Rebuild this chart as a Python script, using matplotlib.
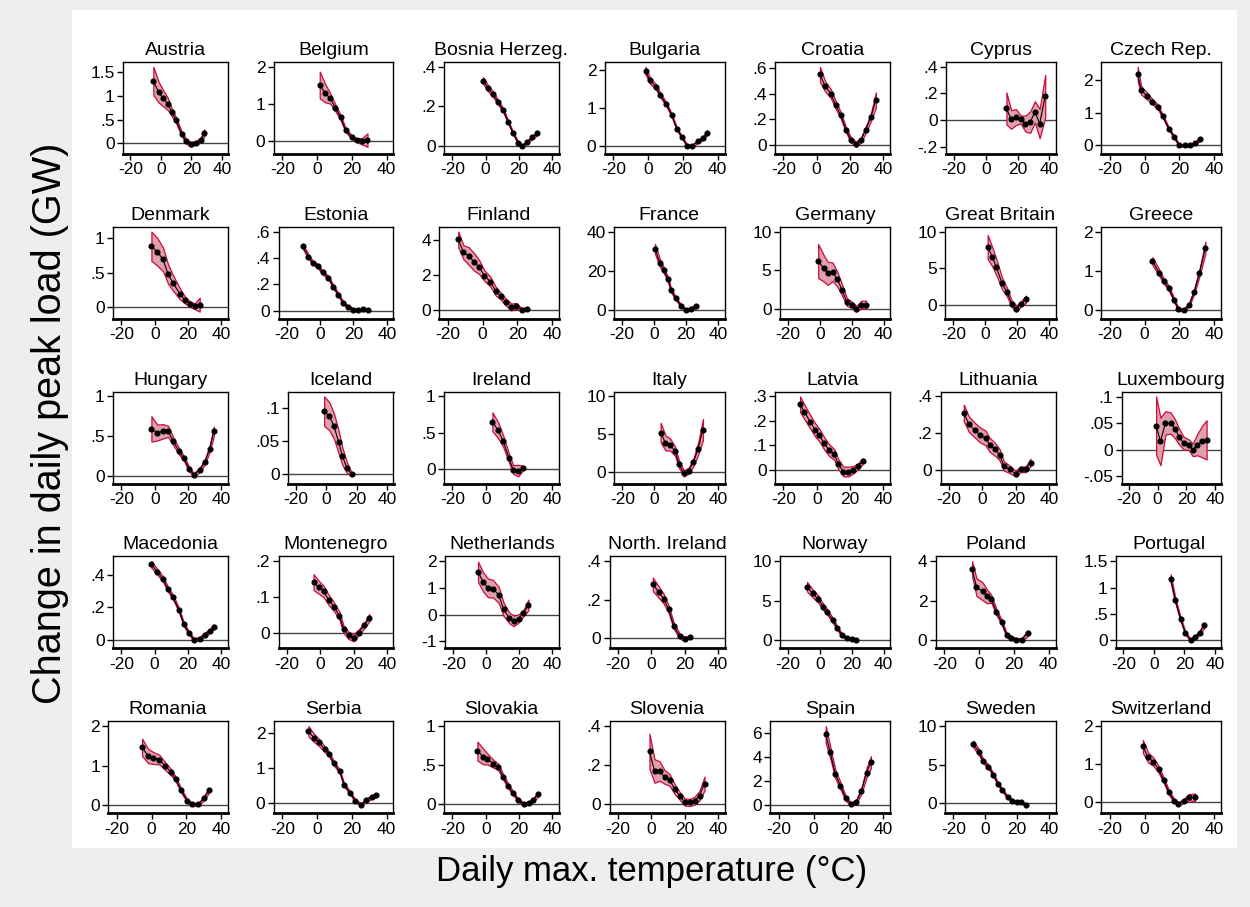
import matplotlib
matplotlib.use("Agg")
import matplotlib.pyplot as plt
from matplotlib.patches import Rectangle
import numpy as np

plt.rcParams['font.family'] = ['Liberation Sans', 'DejaVu Sans']

# countries in panel order (5 rows x 7 columns)
countries = ["Austria", "Belgium", "Bosnia Herzeg.", "Bulgaria", "Croatia", "Cyprus", "Czech Rep.",
             "Denmark", "Estonia", "Finland", "France", "Germany", "Great Britain", "Greece",
             "Hungary", "Iceland", "Ireland", "Italy", "Latvia", "Lithuania", "Luxembourg",
             "Macedonia", "Montenegro", "Netherlands", "North. Ireland", "Norway", "Poland", "Portugal",
             "Romania", "Serbia", "Slovakia", "Slovenia", "Spain", "Sweden", "Switzerland"]

# daily max temperature bins (deg C)
temp = {
    "Austria": [-5, -1.5, 1.5, 4.5, 7, 10, 13.5, 16.5, 19.5, 23, 26, 28.5],
    "Belgium": [1.5, 4.5, 7.5, 10.5, 13.5, 16.5, 20, 23, 26, 29],
    "Bosnia Herzeg.": [-1.5, 1.5, 4.5, 7.5, 10.5, 13.5, 16.5, 19.5, 22, 25, 28, 31],
    "Bulgaria": [-1.5, 1, 4.5, 7, 10.5, 13.5, 16.5, 19.5, 22.5, 25.5, 28.5, 31.5, 34],
    "Croatia": [2, 5, 8.5, 11.5, 14.5, 17.5, 20.5, 23.5, 26.5, 29.5, 32.5, 35.5],
    "Cyprus": [13, 16, 19, 22, 25, 28, 31, 34, 37.5],
    "Czech Rep.": [-4, -2, 1.5, 4.5, 7.5, 10.5, 14, 17, 20, 23, 26, 29, 32],
    "Denmark": [-2, 1.5, 5, 8, 11, 15, 18, 21, 24, 27],
    "Estonia": [-10.5, -7, -4.5, -1.5, 1.5, 5, 8, 11, 14, 17, 20, 23, 26, 29],
    "Finland": [-14, -11, -8, -5, -2, 1, 4.5, 7.5, 10.5, 13.5, 16.5, 19.5, 22.5, 25.5],
    "France": [0.5, 3.5, 6, 8.5, 10.5, 13.5, 17, 20, 23, 26],
    "Germany": [-1, 2.5, 5, 8, 11, 14, 17, 20, 23, 26, 29],
    "Great Britain": [1.5, 4.5, 7, 10.5, 13.5, 16.5, 19.5, 22.5, 25.5],
    "Greece": [4.5, 8.5, 11, 14, 17, 19.5, 22.5, 25.5, 28.5, 31.5, 35],
    "Hungary": [-2, 1.5, 5, 8, 11, 14.5, 17.5, 20.5, 23.5, 27, 30, 33, 35.5],
    "Iceland": [-1.5, 2, 5, 8, 10.5, 13.5, 16.5],
    "Ireland": [4, 7.5, 10.5, 14, 16.5, 19.5, 22.5],
    "Italy": [4, 7, 10, 13, 15.5, 18.5, 21.5, 24.5, 27.5, 30.5],
    "Latvia": [-10, -7.5, -4, -1, 1.5, 4.5, 7.5, 10.5, 13, 16, 19, 22, 25, 27.5],
    "Lithuania": [-11, -8, -4.5, -1.5, 2, 4.5, 7.5, 10.5, 13, 16.5, 20, 23, 26, 29],
    "Luxembourg": [-1, 2, 5.5, 9, 12, 15, 18, 21.5, 24.5, 27.5, 31, 34],
    "Macedonia": [-2, 1.5, 5, 8, 11, 14.5, 17.5, 20.5, 23.5, 27, 30, 33, 35.5],
    "Montenegro": [-4, -1, 2, 5, 8.5, 11.5, 14, 17, 20, 23, 26.5, 29.5],
    "Netherlands": [-5, -2, 1, 4, 7.5, 10.5, 14, 16.5, 19.5, 22.5, 25.5],
    "North. Ireland": [1, 4.5, 7.5, 10.5, 13.5, 17, 20, 23],
    "Norway": [-8, -4.5, -1, 2, 4.5, 8, 11, 14, 17, 20, 22.5],
    "Poland": [-4, -1.5, 2, 4.5, 7, 10, 13, 16, 18.5, 21.5, 24.5, 28],
    "Portugal": [11, 14, 17.5, 20.5, 24, 27, 30, 33],
    "Romania": [-5.5, -2, 1, 4.5, 7.5, 11, 14, 17, 20.5, 23.5, 27, 30, 33],
    "Serbia": [-5, -2, 1, 4.5, 7, 9.5, 13, 15.5, 19, 22, 25.5, 28, 31.5, 34],
    "Slovakia": [-5, -1.5, 1, 4.5, 7.5, 10.5, 13.5, 16.5, 19.5, 23, 26, 28.5, 31.5],
    "Slovenia": [-1, 2, 5, 8, 11, 14, 17, 20, 23, 26, 29, 32],
    "Spain": [7, 9.5, 12.5, 15.5, 18.5, 21.5, 24.5, 27.5, 30.5, 33],
    "Sweden": [-7.5, -4, -1.5, 2, 5, 8, 10.5, 14, 17, 20, 22.5, 25.5],
    "Switzerland": [-1, 2, 5, 8, 11, 14, 17, 19.5, 22.5, 25.5, 29],
}

# change in daily peak load (GW)
load = {
    "Austria": [1.32, 1.08, 0.95, 0.83, 0.66, 0.48, 0.2, 0.04, -0.03, 0.01, 0.06, 0.22],
    "Belgium": [1.51, 1.3, 1.15, 0.9, 0.64, 0.29, 0.11, 0.02, 0.0, 0.03],
    "Bosnia Herzeg.": [0.33, 0.29, 0.26, 0.22, 0.18, 0.12, 0.063, 0.014, 0.0, 0.02, 0.042, 0.063],
    "Bulgaria": [1.98, 1.72, 1.55, 1.34, 1.09, 0.81, 0.45, 0.22, 0.0, 0.0, 0.11, 0.2, 0.34],
    "Croatia": [0.55, 0.46, 0.40, 0.31, 0.23, 0.12, 0.04, 0.005, 0.036, 0.12, 0.215, 0.35],
    "Cyprus": [0.088, 0.005, 0.023, 0.005, -0.026, -0.015, 0.062, -0.026, 0.18],
    "Czech Rep.": [2.19, 1.69, 1.51, 1.34, 1.19, 0.89, 0.51, 0.26, 0.0, 0.0, 0.0, 0.07, 0.2],
    "Denmark": [0.88, 0.80, 0.69, 0.48, 0.35, 0.20, 0.11, 0.05, 0.015, 0.04],
    "Estonia": [0.49, 0.41, 0.365, 0.34, 0.29, 0.25, 0.18, 0.12, 0.057, 0.029, 0.008, 0.003, 0.01, 0.008],
    "Finland": [4.02, 3.29, 3.08, 2.75, 2.45, 1.96, 1.61, 1.08, 0.78, 0.43, 0.16, 0.24, 0.0, 0.06],
    "France": [31.2, 24.2, 20.4, 16, 10.3, 6, 2.1, 0, 0.8, 2],
    "Germany": [6.2, 5.24, 4.6, 4.8, 3.85, 2.42, 0.87, 0.56, 0.0, 0.56, 0.56],
    "Great Britain": [7.9, 6.5, 5.1, 2.9, 1.76, 0.14, -0.55, 0.14, 0.74],
    "Greece": [1.25, 0.95, 0.75, 0.56, 0.26, 0.03, 0.01, 0.13, 0.47, 0.94, 1.59],
    "Hungary": [0.59, 0.545, 0.56, 0.56, 0.44, 0.31, 0.22, 0.09, 0.012, 0.074, 0.17, 0.34, 0.56],
    "Iceland": [0.095, 0.087, 0.072, 0.049, 0.027, 0.01, 0.0],
    "Ireland": [0.65, 0.53, 0.38, 0.145, -0.01, -0.025, 0.014],
    "Italy": [5.2, 3.83, 3.6, 2.73, 1.0, -0.22, 0.13, 1.23, 3.08, 5.6],
    "Latvia": [0.268, 0.237, 0.197, 0.163, 0.142, 0.107, 0.079, 0.062, 0.022, -0.008, -0.008, -0.001, 0.015, 0.034],
    "Lithuania": [0.31, 0.25, 0.218, 0.193, 0.175, 0.138, 0.115, 0.084, 0.024, 0.005, -0.018, 0.005, 0.005, 0.042],
    "Luxembourg": [0.046, 0.016, 0.051, 0.051, 0.04, 0.025, 0.013, 0.01, 0.0, 0.01, 0.016, 0.019],
    "Macedonia": [0.463, 0.419, 0.373, 0.31, 0.262, 0.184, 0.094, 0.042, 0.0, 0.006, 0.031, 0.052, 0.08],
    "Montenegro": [0.142, 0.128, 0.116, 0.093, 0.072, 0.049, 0.011, -0.006, -0.012, 0.002, 0.022, 0.043],
    "Netherlands": [1.6, 1.23, 1.0, 0.97, 0.74, 0.19, -0.13, -0.24, -0.15, 0.06, 0.36],
    "North. Ireland": [0.28, 0.24, 0.205, 0.15, 0.065, 0.012, -0.004, 0.005],
    "Norway": [6.78, 5.94, 5.23, 4.27, 3.64, 2.6, 1.55, 0.63, 0.29, 0.17, 0.0],
    "Poland": [3.62, 2.69, 2.48, 2.22, 2.1, 1.43, 0.91, 0.24, 0.12, 0.03, 0.03, 0.35],
    "Portugal": [1.17, 0.76, 0.40, 0.15, 0.006, 0.07, 0.15, 0.29],
    "Romania": [1.46, 1.24, 1.19, 1.15, 1.0, 0.84, 0.65, 0.37, 0.11, 0.017, 0.017, 0.17, 0.37],
    "Serbia": [2.05, 1.87, 1.73, 1.53, 1.39, 1.14, 0.9, 0.52, 0.29, 0.05, -0.05, 0.07, 0.17, 0.22],
    "Slovakia": [0.68, 0.61, 0.58, 0.52, 0.48, 0.35, 0.236, 0.14, 0.056, 0.0, 0.021, 0.056, 0.133],
    "Slovenia": [0.27, 0.17, 0.17, 0.14, 0.125, 0.079, 0.044, 0.012, 0.009, 0.018, 0.044, 0.106],
    "Spain": [5.9, 4.44, 2.6, 1.6, 0.56, 0.06, 0.26, 1.17, 2.69, 3.57],
    "Sweden": [7.67, 6.64, 5.52, 4.75, 3.72, 2.51, 1.79, 0.81, 0.36, 0.13, 0.13, -0.18],
    "Switzerland": [1.46, 1.17, 1.06, 0.86, 0.57, 0.25, 0.03, -0.06, 0.03, 0.12, 0.12],
}

# half width of the confidence band
ci = {
    "Austria": [0.3, 0.22, 0.17, 0.13, 0.08, 0.06, 0.05, 0.05, 0.05, 0.04, 0.05, 0.07],
    "Belgium": [0.36, 0.25, 0.14, 0.09, 0.07, 0.05, 0.05, 0.05, 0.09, 0.18],
    "Bosnia Herzeg.": [0.017, 0.015, 0.015, 0.012, 0.01, 0.008, 0.007, 0.006, 0.006, 0.007, 0.008, 0.01],
    "Bulgaria": [0.1, 0.08, 0.07, 0.06, 0.05, 0.04, 0.04, 0.03, 0.03, 0.03, 0.04, 0.05, 0.06],
    "Croatia": [0.06, 0.04, 0.035, 0.03, 0.025, 0.02, 0.02, 0.02, 0.02, 0.025, 0.03, 0.06],
    "Cyprus": [0.12, 0.07, 0.06, 0.03, 0.06, 0.08, 0.08, 0.11, 0.16],
    "Czech Rep.": [0.22, 0.13, 0.1, 0.08, 0.07, 0.05, 0.04, 0.04, 0.04, 0.03, 0.03, 0.04, 0.06],
    "Denmark": [0.21, 0.2, 0.17, 0.14, 0.11, 0.08, 0.05, 0.04, 0.04, 0.1],
    "Estonia": [0.018, 0.016, 0.015, 0.015, 0.014, 0.014, 0.013, 0.012, 0.011, 0.01, 0.01, 0.01, 0.01, 0.01],
    "Finland": [0.45, 0.4, 0.5, 0.5, 0.4, 0.3, 0.28, 0.25, 0.2, 0.2, 0.2, 0.15, 0.1, 0.1],
    "France": [2.5, 2, 1.5, 1.2, 1, 0.8, 0.7, 0.7, 0.8, 1],
    "Germany": [2.2, 1.7, 1.5, 1.2, 0.95, 0.7, 0.5, 0.4, 0.35, 0.5, 0.5],
    "Great Britain": [1.65, 1.3, 1.1, 0.8, 0.6, 0.45, 0.4, 0.35, 0.5],
    "Greece": [0.1, 0.08, 0.07, 0.06, 0.05, 0.04, 0.04, 0.04, 0.06, 0.09, 0.15],
    "Hungary": [0.16, 0.1, 0.09, 0.07, 0.05, 0.04, 0.03, 0.03, 0.02, 0.03, 0.03, 0.04, 0.06],
    "Iceland": [0.022, 0.021, 0.019, 0.017, 0.013, 0.008, 0.003],
    "Ireland": [0.13, 0.11, 0.08, 0.06, 0.06, 0.08, 0.03],
    "Italy": [1.3, 1.0, 0.8, 0.6, 0.5, 0.4, 0.4, 0.5, 0.8, 1.4],
    "Latvia": [0.032, 0.03, 0.028, 0.027, 0.026, 0.025, 0.024, 0.022, 0.02, 0.02, 0.02, 0.015, 0.012, 0.012],
    "Lithuania": [0.045, 0.042, 0.04, 0.04, 0.04, 0.038, 0.035, 0.03, 0.025, 0.02, 0.015, 0.015, 0.015, 0.02],
    "Luxembourg": [0.055, 0.045, 0.022, 0.02, 0.018, 0.015, 0.012, 0.01, 0.012, 0.02, 0.03, 0.037],
    "Macedonia": [0.02, 0.018, 0.016, 0.015, 0.014, 0.013, 0.012, 0.01, 0.01, 0.01, 0.012, 0.013, 0.015],
    "Montenegro": [0.022, 0.018, 0.016, 0.014, 0.012, 0.011, 0.01, 0.01, 0.01, 0.008, 0.008, 0.01],
    "Netherlands": [0.38, 0.36, 0.35, 0.33, 0.3, 0.25, 0.2, 0.2, 0.15, 0.12, 0.2],
    "North. Ireland": [0.035, 0.03, 0.025, 0.02, 0.016, 0.013, 0.012, 0.006],
    "Norway": [0.6, 0.5, 0.45, 0.4, 0.35, 0.3, 0.25, 0.2, 0.15, 0.12, 0.1],
    "Poland": [0.38, 0.45, 0.45, 0.35, 0.2, 0.15, 0.12, 0.1, 0.08, 0.08, 0.08, 0.15],
    "Portugal": [0.08, 0.05, 0.04, 0.03, 0.02, 0.03, 0.04, 0.05],
    "Romania": [0.22, 0.18, 0.15, 0.12, 0.1, 0.08, 0.06, 0.05, 0.04, 0.04, 0.04, 0.05, 0.06],
    "Serbia": [0.15, 0.12, 0.1, 0.08, 0.07, 0.06, 0.05, 0.05, 0.04, 0.04, 0.04, 0.05, 0.05, 0.06],
    "Slovakia": [0.12, 0.1, 0.07, 0.05, 0.04, 0.035, 0.03, 0.025, 0.02, 0.02, 0.02, 0.025, 0.03],
    "Slovenia": [0.09, 0.06, 0.05, 0.035, 0.03, 0.025, 0.02, 0.018, 0.018, 0.02, 0.025, 0.035],
    "Spain": [0.7, 0.5, 0.35, 0.3, 0.2, 0.15, 0.15, 0.25, 0.4, 0.5],
    "Sweden": [0.45, 0.35, 0.3, 0.25, 0.22, 0.2, 0.18, 0.15, 0.12, 0.12, 0.12, 0.15],
    "Switzerland": [0.17, 0.13, 0.11, 0.09, 0.07, 0.06, 0.05, 0.05, 0.05, 0.08, 0.1],
}

yticks = {
    "Austria": [0, .5, 1, 1.5], "Belgium": [0, 1, 2], "Bosnia Herzeg.": [0, .2, .4],
    "Bulgaria": [0, 1, 2], "Croatia": [0, .2, .4, .6], "Cyprus": [-.2, 0, .2, .4],
    "Czech Rep.": [0, 1, 2], "Denmark": [0, .5, 1], "Estonia": [0, .2, .4, .6],
    "Finland": [0, 2, 4], "France": [0, 20, 40], "Germany": [0, 5, 10],
    "Great Britain": [0, 5, 10], "Greece": [0, 1, 2], "Hungary": [0, .5, 1],
    "Iceland": [0, .05, .1], "Ireland": [0, .5, 1], "Italy": [0, 5, 10],
    "Latvia": [0, .1, .2, .3], "Lithuania": [0, .2, .4], "Luxembourg": [-.05, 0, .05, .1],
    "Macedonia": [0, .2, .4], "Montenegro": [0, .1, .2], "Netherlands": [-1, 0, 1, 2],
    "North. Ireland": [0, .2, .4], "Norway": [0, 5, 10], "Poland": [0, 2, 4],
    "Portugal": [0, .5, 1, 1.5], "Romania": [0, 1, 2], "Serbia": [0, 1, 2],
    "Slovakia": [0, .5, 1], "Slovenia": [0, .2, .4], "Spain": [0, 2, 4, 6],
    "Sweden": [0, 5, 10], "Switzerland": [0, 1, 2],
}
xticks = [-20, 0, 20, 40]


def stata_fmt(v):
    s = "%g" % v
    if s.startswith("0."):
        s = s[1:]
    elif s.startswith("-0."):
        s = "-" + s[2:]
    return s


W, H = 1250, 907
fig = plt.figure(figsize=(W / 100, H / 100), dpi=100, facecolor="#eeeeee")
fig.add_artist(Rectangle((72 / W, 1 - 848 / H), (1237 - 72) / W, (848 - 10) / H,
                         transform=fig.transFigure, facecolor="white", edgecolor="none", zorder=0))

band_face = "#dfa0ae"
band_edge = "#cc0a3a"

axes = []
for i, name in enumerate(countries):
    r, c = divmod(i, 7)
    right = 228 + 165.5 * c
    top = 62 + 164.8 * r
    ax = fig.add_axes([(right - 110) / W, 1 - (top + 92) / H, 110 / W, 92 / H])
    x = np.array(temp[name])
    y = np.array(load[name])
    hw = np.array(ci[name])
    ax.fill_between(x, y - hw, y + hw, facecolor=band_face, edgecolor=band_edge, lw=0.9, zorder=2)
    ax.axhline(0, color="#444444", lw=1, zorder=1)
    ax.plot(x, y, color="black", lw=0.8, marker="o", ms=3.4, zorder=3)

    tk = yticks[name]
    lo = min((y - hw).min(), min(tk))
    hi = max((y + hw).max(), max(tk))
    span = hi - lo
    ax.set_ylim(lo - 0.09 * span, hi + 0.06 * span)
    ax.set_xlim(-25, 44)
    ax.set_yticks(tk)
    ax.set_yticklabels([stata_fmt(v) for v in tk])
    ax.set_xticks(xticks)
    ax.set_xticklabels([str(v) for v in xticks])
    ax.tick_params(direction="out", length=4, width=1, labelsize=12.5, pad=2, colors="black")
    for s in ax.spines.values():
        s.set_linewidth(1)
    ax.spines["bottom"].set_linewidth(2)
    ax.set_title(name, fontsize=14, pad=5)
    axes.append((ax, right, top))

# shift left edges so the tick labels fit, like Stata does
fig.canvas.draw()
rend = fig.canvas.get_renderer()
for ax, right, top in axes:
    w = max(t.get_window_extent(rend).width for t in ax.get_yticklabels())
    left = right - 129.5 + w
    ax.set_position([left / W, 1 - (top + 92) / H, (right - left) / W, 92 / H])

fig.text(50 / W, 1 - 423 / H, "Change in daily peak load (GW)", rotation=90,
         fontsize=28.5, ha="center", va="center")
fig.text(652 / W, 1 - 872 / H, "Daily max. temperature (°C)", fontsize=25,
         ha="center", va="center")

fig.savefig("out.png", dpi=100, facecolor=fig.get_facecolor())
